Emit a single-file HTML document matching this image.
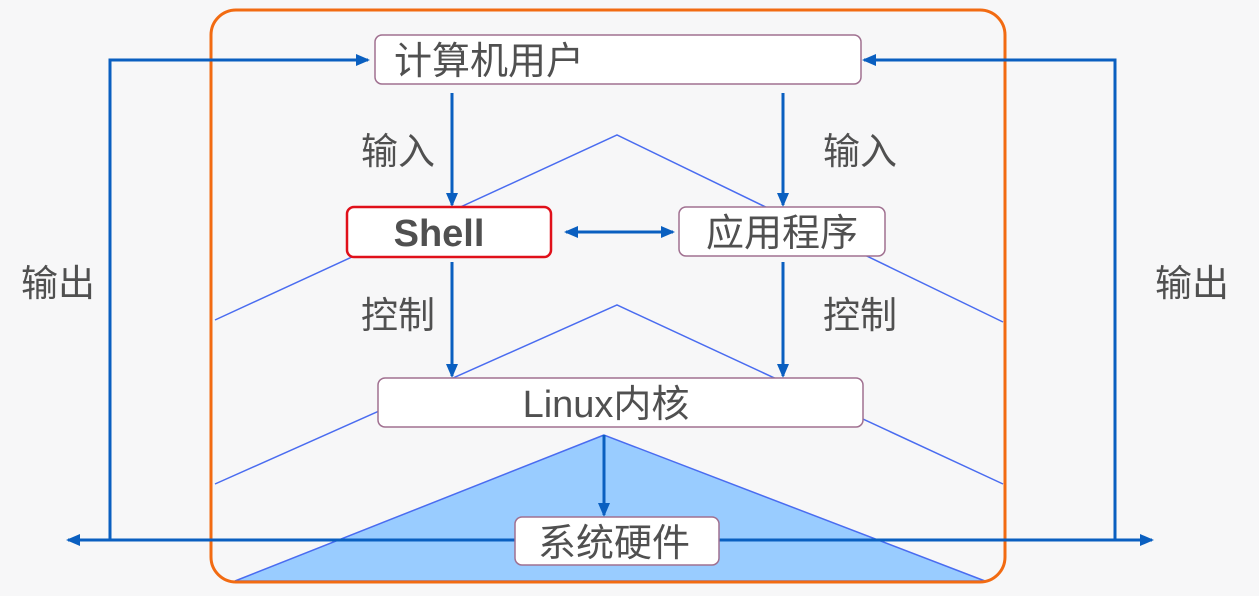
<!DOCTYPE html>
<html><head><meta charset="utf-8"><style>
body{margin:0;background:#f7f7f8;}
svg text{font-family:"Liberation Sans","Noto Sans CJK SC",sans-serif;fill:#505050;}
</style></head><body>
<svg width="1259" height="591" viewBox="0 0 1259 591" xmlns="http://www.w3.org/2000/svg">
<defs>
<marker id="a2" markerWidth="14" markerHeight="12" refX="12" refY="6" orient="auto-start-reverse" markerUnits="userSpaceOnUse"><path d="M0,0 L14,6 L0,12 Z" fill="#0a5fc0"/></marker>
</defs>
<rect x="0" y="0" width="1259" height="591" fill="#f7f7f8"/>
<polyline points="215,320 617,135 1003,322" fill="none" stroke="#4a6cf0" stroke-width="1.5"/>
<polyline points="215,484 617,305 1003,484" fill="none" stroke="#4a6cf0" stroke-width="1.5"/>
<polygon points="604,435 235,581 985,581" fill="#99ccff" stroke="#4a6cf0" stroke-width="1.5"/>
<rect x="211" y="10" width="794" height="572" rx="25" fill="none" stroke="#f26b12" stroke-width="3"/>
<polyline points="110,540 110,60 368,60" fill="none" stroke="#0a5fc0" stroke-width="3" marker-end="url(#a2)"/>
<polyline points="1115,540 1115,60 864,60" fill="none" stroke="#0a5fc0" stroke-width="3" marker-end="url(#a2)"/>
<line x1="68" y1="540" x2="1152" y2="540" stroke="#0a5fc0" stroke-width="3" marker-start="url(#a2)" marker-end="url(#a2)"/>
<line x1="452" y1="93" x2="452" y2="205" stroke="#0a5fc0" stroke-width="3" marker-end="url(#a2)"/>
<line x1="783" y1="93" x2="783" y2="205" stroke="#0a5fc0" stroke-width="3" marker-end="url(#a2)"/>
<line x1="452" y1="262" x2="452" y2="376" stroke="#0a5fc0" stroke-width="3" marker-end="url(#a2)"/>
<line x1="783" y1="262" x2="783" y2="376" stroke="#0a5fc0" stroke-width="3" marker-end="url(#a2)"/>
<line x1="604" y1="435" x2="604" y2="515" stroke="#0a5fc0" stroke-width="3" marker-end="url(#a2)"/>
<line x1="566" y1="232" x2="673" y2="232" stroke="#0a5fc0" stroke-width="3" marker-start="url(#a2)" marker-end="url(#a2)"/>
<rect x="375" y="35" width="486" height="49" rx="7" fill="#fff" stroke="#a07090" stroke-width="1.5"/>
<text x="394" y="74" font-size="38">计算机用户</text>
<rect x="347" y="207" width="204" height="50" rx="7" fill="#fff" stroke="#e0101a" stroke-width="2.5"/>
<text x="439" y="246" font-size="38" font-weight="bold" text-anchor="middle">Shell</text>
<rect x="679" y="207" width="206" height="49" rx="7" fill="#fff" stroke="#a07090" stroke-width="1.5"/>
<text x="782" y="246" font-size="38" text-anchor="middle">应用程序</text>
<rect x="378" y="378" width="485" height="49" rx="7" fill="#fff" stroke="#a07090" stroke-width="1.5"/>
<text x="606" y="417" font-size="38" text-anchor="middle">Linux内核</text>
<rect x="515" y="517" width="204" height="48" rx="7" fill="#fff" stroke="#a07090" stroke-width="1.5"/>
<text x="614" y="556" font-size="38" text-anchor="middle">系统硬件</text>
<text x="398" y="164" font-size="37" text-anchor="middle">输入</text>
<text x="860" y="164" font-size="37" text-anchor="middle">输入</text>
<text x="398" y="328" font-size="37" text-anchor="middle">控制</text>
<text x="860" y="328" font-size="37" text-anchor="middle">控制</text>
<text x="58" y="296" font-size="37" text-anchor="middle">输出</text>
<text x="1192" y="296" font-size="37" text-anchor="middle">输出</text>
</svg>
</body></html>
